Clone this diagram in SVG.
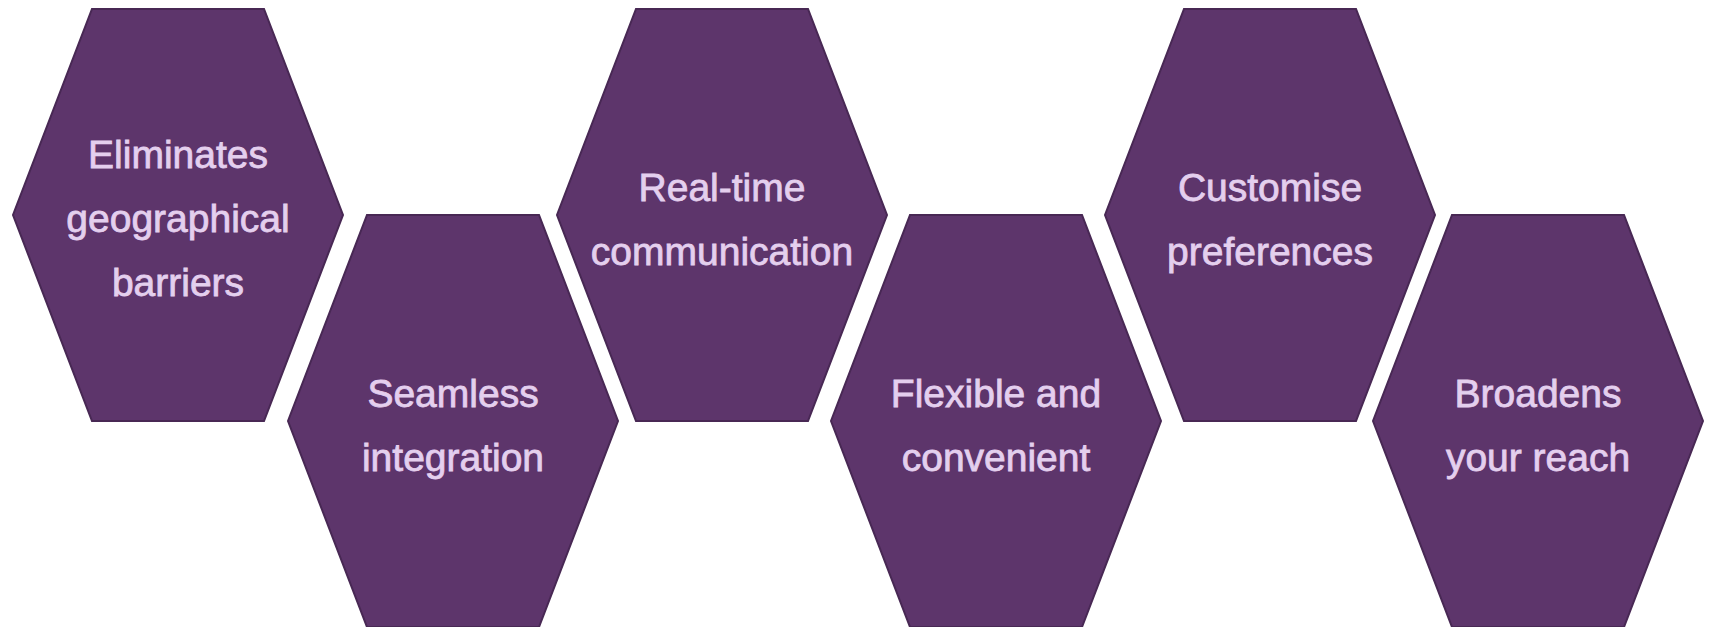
<svg xmlns="http://www.w3.org/2000/svg" width="1712" height="627" viewBox="0 0 1712 627">
<style>
.hex{fill:#5d356b;stroke:#482854;stroke-width:2;stroke-linejoin:miter}
.lbl{font-family:"Liberation Sans",Arial,sans-serif;font-size:39px;fill:#e4cfee;stroke:#e4cfee;stroke-width:0.8px;text-anchor:middle}
</style>
<defs>
<polygon id="hx" points="-86,-206 86,-206 165,0 86,206 -86,206 -165,0"/>
</defs>
<rect width="1712" height="627" fill="#ffffff"/>
<g id="connectors"></g>
<g id="n1" transform="translate(178,215)">
<use href="#hx" class="hex"/>
<text class="lbl" x="0" y="-47">Eliminates</text>
<text class="lbl" x="0" y="17">geographical</text>
<text class="lbl" x="0" y="81">barriers</text>
</g>
<g id="n2" transform="translate(453,421)">
<use href="#hx" class="hex"/>
<text class="lbl" x="0" y="-14">Seamless</text>
<text class="lbl" x="0" y="50">integration</text>
</g>
<g id="n3" transform="translate(722,215)">
<use href="#hx" class="hex"/>
<text class="lbl" x="0" y="-14">Real-time</text>
<text class="lbl" x="0" y="50">communication</text>
</g>
<g id="n4" transform="translate(996,421)">
<use href="#hx" class="hex"/>
<text class="lbl" x="0" y="-14">Flexible and</text>
<text class="lbl" x="0" y="50">convenient</text>
</g>
<g id="n5" transform="translate(1270,215)">
<use href="#hx" class="hex"/>
<text class="lbl" x="0" y="-14">Customise</text>
<text class="lbl" x="0" y="50">preferences</text>
</g>
<g id="n6" transform="translate(1538,421)">
<use href="#hx" class="hex"/>
<text class="lbl" x="0" y="-14">Broadens</text>
<text class="lbl" x="0" y="50">your reach</text>
</g>
</svg>
